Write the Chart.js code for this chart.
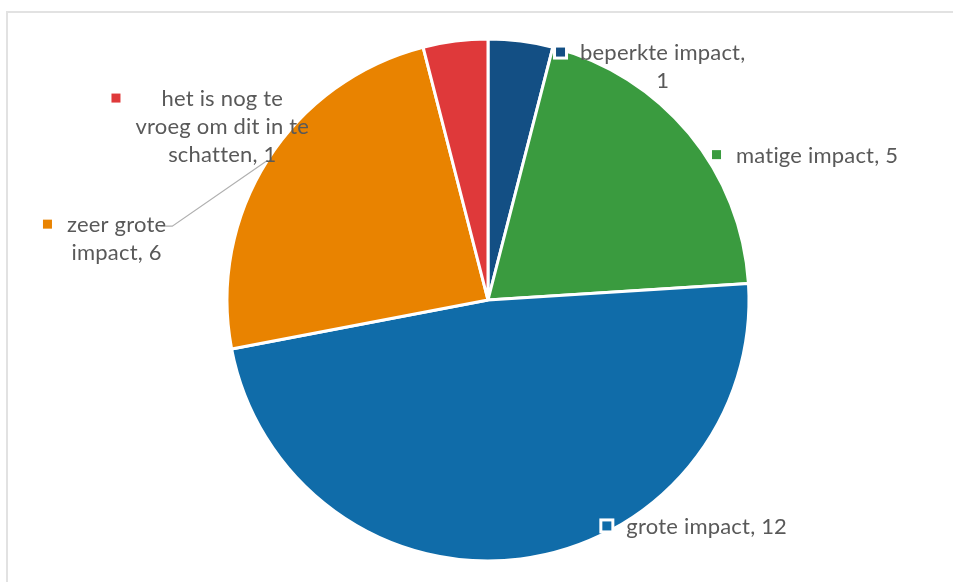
<!DOCTYPE html>
<html>
<head>
<meta charset="utf-8">
<script src="https://cdn.jsdelivr.net/npm/chart.js@4.4.1/dist/chart.umd.min.js"></script>
<style>
  html, body { margin: 0; padding: 0; background: #fff; }
  #wrap { position: relative; width: 953px; height: 582px; overflow: hidden; }
  #frame { position: absolute; left: 6px; top: 11px; right: -4px; bottom: -4px; border-top: 2px solid #e2e2e2; border-left: 2px solid #e2e2e2; }
  canvas { position: absolute; left: 0; top: 0; }
</style>
</head>
<body>
<div id="wrap">
  <div id="frame"></div>
  <canvas id="pie" width="953" height="582"></canvas>
</div>
<script>
const categories = [
  "beperkte impact",
  "matige impact",
  "grote impact",
  "zeer grote impact",
  "het is nog te vroeg om dit in te schatten",
];
const counts = [1, 5, 12, 6, 1];
const sliceColors = ["#134f84", "#3a9b3f", "#106ca9", "#e98300", "#df393a"];

// label text lines per slice (as wrapped in the original)
const labelLines = [
  ["beperkte impact,", "1"],
  ["matige impact, 5"],
  ["grote impact, 12"],
  ["zeer grote", "impact, 6"],
  ["het is nog te", "vroeg om dit in te", "schatten, 1"],
];

// label placement relative to the outer mid point of each slice
const labelOffsets = [
  { dx: 142, dy: 19 },
  { dx: 128, dy: 29 },
  { dx: 186, dy: -25 },
  { dx: -151, dy: 72, leader: true },
  { dx: -233, dy: 65 },
];

const FONT = "22px Lato";
const LINE_H = 28;

const pieLabels = {
  id: "pieLabels",
  afterDatasetsDraw(chart) {
    const ctx = chart.ctx;
    const meta = chart.getDatasetMeta(0);
    ctx.save();
    ctx.font = FONT;
    ctx.letterSpacing = "0.2px"; // keeps Lato from joining "ti" into a ligature
    ctx.textBaseline = "alphabetic";
    ctx.textAlign = "center";
    meta.data.forEach((arc, i) => {
      const { x, y, startAngle, endAngle, outerRadius } = arc.getProps(["x", "y", "startAngle", "endAngle", "outerRadius"], true);
      const mid = (startAngle + endAngle) / 2;
      const ex = x + Math.cos(mid) * outerRadius;
      const ey = y + Math.sin(mid) * outerRadius;
      const off = labelOffsets[i];
      const cx = ex + off.dx;
      const by = ey + off.dy;
      const lines = labelLines[i];
      const maxW = Math.max(...lines.map((l) => ctx.measureText(l).width));

      if (off.leader) {
        const rx = cx + maxW / 2;
        ctx.strokeStyle = "#b0b0b0";
        ctx.lineWidth = 1.2;
        ctx.beginPath();
        ctx.moveTo(ex, ey);
        ctx.lineTo(rx + 6, by - 6);
        ctx.lineTo(rx - 6, by - 6);
        ctx.stroke();
      }

      // legend key square with white outline
      const mx = cx - maxW / 2 - 24;
      const my = by - 8 - 4.5;
      ctx.fillStyle = "#ffffff";
      ctx.fillRect(mx - 3, my - 3, 15, 15);
      ctx.fillStyle = sliceColors[i];
      ctx.fillRect(mx, my, 9, 9);

      ctx.fillStyle = "#595959";
      lines.forEach((line, k) => ctx.fillText(line, cx, by + k * LINE_H));
    });
    ctx.restore();
  },
};

new Chart(document.getElementById("pie"), {
  type: "pie",
  data: {
    labels: categories,
    datasets: [{
      data: counts,
      backgroundColor: sliceColors,
      borderColor: "#ffffff",
      borderWidth: 3,
    }],
  },
  options: {
    responsive: false,
    animation: false,
    radius: 261,
    layout: { padding: { left: 23, right: 0, top: 40, bottom: 22 } },
    plugins: { legend: { display: false }, tooltip: { enabled: false } },
  },
  plugins: [pieLabels],
});
</script>
</body>
</html>
